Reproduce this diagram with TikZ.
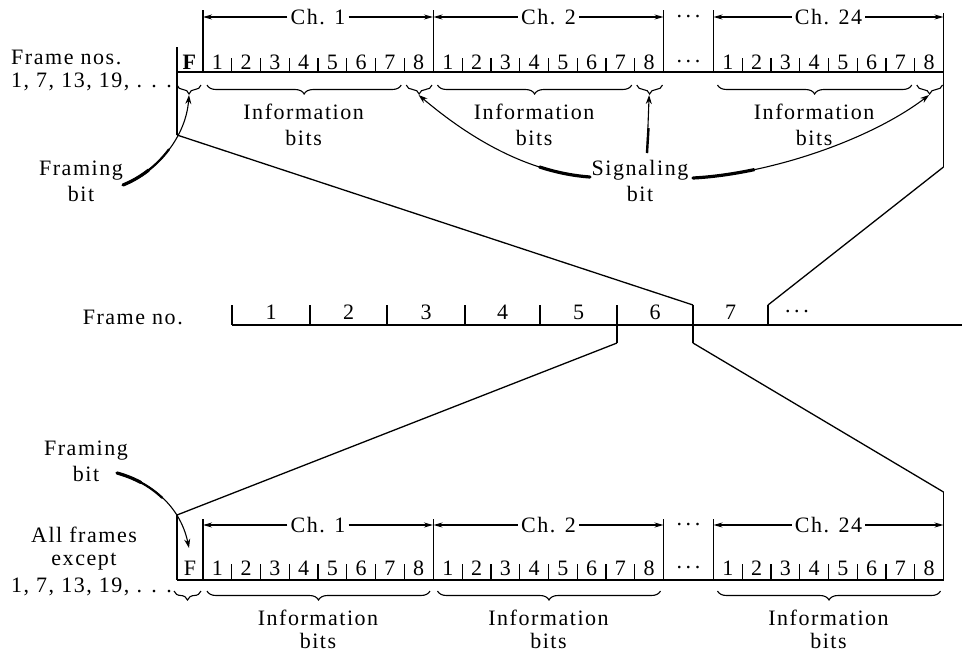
\documentclass[tikz,border=0pt]{standalone}
\usepackage{fontspec}
\setmainfont{Liberation Serif}[LetterSpace=7]
\usetikzlibrary{arrows.meta,decorations.pathreplacing}
\tikzset{
 tx/.style={inner sep=0pt, font=\fontsize{22}{26}\selectfont, align=center},
 ln/.style={line width=1.3pt},
 bl/.style={line width=2pt},
 sp/.style={line width=1.2pt},
 brc/.style={decorate, decoration={brace, mirror, amplitude=9pt}, line width=1.1pt},
 arr/.style={line width=1.1pt, -{Stealth[length=9pt,width=6pt]}},
 charr/.style={line width=1.1pt, -{Stealth[length=9pt,width=5pt]}},
 fat/.style={line width=3.2pt, line cap=round},
}
\begin{document}
\begin{tikzpicture}[x=1pt,y=-1pt]
\useasboundingbox (0,0) rectangle (962,657);

% ---------- the two frames ----------
\foreach \fr/\by/\dy/\cy/\ty/\sh in {t/72/62/17/10/14, b/580/568/525/519/16}{
  \coordinate (\fr BL) at (177,\by);
  \coordinate (\fr BR) at (943.5,\by);
  \draw[bl] (\fr BL) -- (\fr BR);
  \foreach \k/\x in {1/203, 2/433.5, 3/663.5, 4/713.5}{
    \coordinate (\fr CT\k) at (\x,\ty);
    \coordinate (\fr CB\k) at (\x,\by);
    \draw[ln] (\fr CT\k) -- (\fr CB\k);
  }
  \foreach \ch/\st/\lab in {a/203/1, b/433.5/2, c/713.5/24}{
    \node[tx, inner xsep=3pt] (\fr lab\ch) at ({\st+115},\cy) {Ch. \lab};
    \coordinate (\fr chL\ch) at (\st,\cy);
    \coordinate (\fr chR\ch) at ({\st+230},\cy);
    \draw[charr] (\fr lab\ch.west) -- (\fr chL\ch);
    \draw[charr] (\fr lab\ch.east) -- (\fr chR\ch);
    \foreach \k in {1,...,8}{
      \node[tx] (\fr d\ch\k) at ({\st+(\k-0.5)*28.75},\dy) {\k};
    }
    \foreach \k in {1,...,7}{
      \coordinate (\fr sT\ch\k) at ({\st+\k*28.75},{\by-\sh});
      \coordinate (\fr sB\ch\k) at ({\st+\k*28.75},\by);
      \draw[sp] (\fr sT\ch\k) -- (\fr sB\ch\k);
    }
  }
  \node[tx] (\fr dots) at (688.5,\dy) {.\,.\,.};
  \node[tx] (\fr cdots) at (688.5,\cy) {.\,.\,.};
}
\node[tx] (tF) at (190,62) {\textbf{F}};
\node[tx] (bF) at (190,568) {F};

% outer verticals
\coordinate (tLT) at (177,47);   \coordinate (tLB) at (177,135);
\coordinate (tRT) at (943.5,13); \coordinate (tRB) at (943.5,167);
\coordinate (bLT) at (177,515);  \coordinate (bLB) at (177,580);
\coordinate (bRT) at (943.5,492);\coordinate (bRB) at (943.5,580);
\draw[ln] (tLT) -- (tLB);
\draw[ln] (tRT) -- (tRB);
\draw[ln] (bLT) -- (bLB);
\draw[ln] (bRT) -- (bRB);

% ---------- braces, top frame ----------
\coordinate (tFb1) at (177,85); \coordinate (tFb2) at (201,85);
\draw[brc] (tFb1) -- (tFb2);
\coordinate (tFtip) at (189,95);
\foreach \ch/\st in {a/203, b/433.5, c/713.5}{
  \coordinate (ti1\ch) at ({\st+4},85);
  \coordinate (ti2\ch) at ({\st+7*28.75-3},85);
  \coordinate (ts1\ch) at ({\st+7*28.75+2},85);
  \coordinate (ts2\ch) at ({\st+8*28.75-1},85);
  \draw[brc] (ti1\ch) -- (ti2\ch);
  \draw[brc] (ts1\ch) -- (ts2\ch);
  \coordinate (sigtip\ch) at ({\st+7.5*28.75},95);
  \node[tx] (tinfo\ch) at ({\st+3.5*28.75},125) {Information\\bits};
}

% ---------- braces, bottom frame ----------
\coordinate (bFb1) at (174,591); \coordinate (bFb2) at (201,591);
\draw[brc] (bFb1) -- (bFb2);
\coordinate (bFtip) at (189,548);
\foreach \ch/\st in {a/203, b/433.5, c/713.5}{
  \coordinate (bi1\ch) at ({\st+4},591);
  \coordinate (bi2\ch) at ({\st+8*28.75-3},591);
  \draw[brc] (bi1\ch) -- (bi2\ch);
  \node[tx, font=\fontsize{22}{23}\selectfont] (binfo\ch) at ({\st+4*28.75},629) {Information\\bits};
}

% ---------- time line ----------
\foreach \i/\x in {0/232,1/310,2/387,3/465,4/540,5/617,6/693,7/768}{
  \coordinate (tk\i) at (\x,305);
  \coordinate (tb\i) at (\x,325);
  \draw[sp] (tk\i) -- (tb\i);
}
\coordinate (tlE) at (962,325);
\draw[bl] (tb0) -- (tlE);
\coordinate (td5) at (617,343);
\coordinate (td6) at (693,343);
\draw[ln] (tk5) -- (td5);
\draw[ln] (tk6) -- (td6);
\foreach \i/\x in {1/271,2/348.5,3/426,4/502.5,5/578.5,6/655,7/730.5}{
  \node[tx] (fn\i) at (\x,312) {\i};
}
\node[tx] (fndots) at (797,312) {.\,.\,.};
\node[tx, anchor=east] (frno) at (183,317) {Frame no.};

% expansion lines
\draw[ln] (tLB) -- (tk6);
\draw[ln] (tRB) -- (tk7);
\draw[ln] (td5) -- (bLT);
\draw[ln] (td6) -- (bRT);

% ---------- labels ----------
\node[tx, anchor=west] (fnos) at (11,57) {Frame nos.};
\node[tx, anchor=east] (fnums) at (172,82) {1, 7, 13, 19, . . .};
\node[tx] (fbt) at (81,181) {Framing\\bit};
\node[tx] (fbb) at (86,461) {Framing\\bit};
\node[tx] (sgb) at (640,181) {Signaling\\bit};
\node[tx, font=\fontsize{22}{23}\selectfont] (afr) at (84,549) {All frames\\except};
\node[tx, anchor=east] (bnums) at (172,587) {1, 7, 13, 19, . . .};

% ---------- pointer arrows ----------
\coordinate (fbtS) at (123,185);
\draw[arr] (fbtS) .. controls (160,170) and (186,135) .. (tFtip);
\draw[fat] (fbtS) .. controls (132.25,181.25) and (140.8,176.25) .. (148.5,170.2);
\draw[line width=2.2pt, line cap=round] (fbtS) .. controls (141.5,177.5) and (157.25,165) .. (168.9,149.4);

\coordinate (fbbS) at (117,473);
\draw[arr] (fbbS) .. controls (150,482) and (180,505) .. (bFtip);
\draw[fat] (fbbS) .. controls (125.25,475.25) and (133.3,478.4) .. (140.9,482.5);
\draw[line width=2.2pt, line cap=round] (fbbS) .. controls (133.5,477.5) and (149.25,485.5) .. (162.1,497.75);

\coordinate (sgL) at (590,177);
\coordinate (sgR) at (693,178);
\coordinate (sgU) at (647,153);
\coordinate (sgU2) at (648.5,128);
\draw[arr] (sgL) .. controls (520,172) and (460,130) .. (sigtipa);
\draw[fat] (sgL) .. controls (572.5,175.75) and (555.6,172.2) .. (539.6,167);
\draw[arr] (sgR) .. controls (770,174) and (870,140) .. (sigtipc);
\draw[fat] (sgR) .. controls (712.25,177) and (732.9,174.1) .. (754,169.7);
\draw[arr] (sgU) -- (sigtipb);
\draw[line width=2.4pt] (sgU) -- (sgU2);
\end{tikzpicture}
\end{document}
